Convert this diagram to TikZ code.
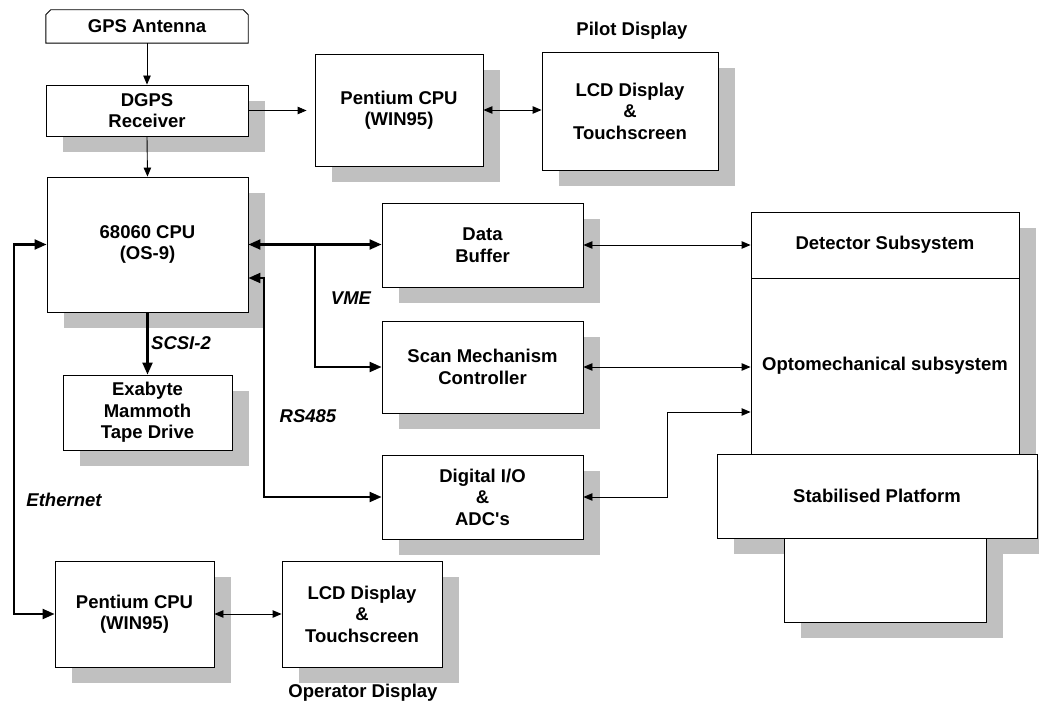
\documentclass[tikz,border=0pt]{standalone}
\usepackage{fontspec}
\setmainfont{Liberation Sans}
\usetikzlibrary{arrows.meta,calc}
\definecolor{shadowgray}{RGB}{192,192,192}
\pgfdeclarelayer{shadowlayer}
\pgfsetlayers{shadowlayer,main}
\tikzset{
  txt/.style={font=\bfseries\fontsize{18.5}{21.5}\selectfont},
  itxt/.style={font=\bfseries\itshape\fontsize{18.5}{21.5}\selectfont},
  box/.style={txt, draw=black, line width=0.9pt, fill=white, inner sep=0pt, align=center},
  boxline/.style={draw=black, line width=0.9pt},
  arr/.style={line width=0.9pt, -{Triangle[length=9pt,width=7.5pt]}},
  darr/.style={line width=0.9pt, {Triangle[length=9pt,width=7.5pt]}-{Triangle[length=9pt,width=7.5pt]}},
  bus/.style={line width=2.2pt, -{Triangle[length=12pt,width=10pt]}},
  dbus/.style={line width=2.2pt, {Triangle[length=12pt,width=10pt]}-{Triangle[length=12pt,width=10pt]}},
  boxshadow/.style={fill=shadowgray, draw=none},
}
\begin{document}
\begin{tikzpicture}[x=1pt,y=-1pt]
\useasboundingbox (0,0) rectangle (1039,703);

% GPS antenna (chamfered top)
\node[txt, minimum width=202pt, minimum height=33pt, inner sep=0pt] (gps) at (147,26.5) {GPS Antenna};
\draw[boxline] (gps.south west) -- ($(gps.north west)+(0,5)$) -- ($(gps.north west)+(5,0)$)
  -- ($(gps.north east)+(-5,0)$) -- ($(gps.north east)+(0,5)$) -- (gps.south east) -- cycle;

% boxes
\node[box, minimum width=202pt, minimum height=51pt] (dgps) at (147,110.5) {DGPS\\Receiver};
\node[box, minimum width=201pt, minimum height=135pt] (cpu) at (147.5,244.5) {68060 CPU\\(OS-9)};
\node[box, minimum width=169pt, minimum height=75pt] (exa) at (147.5,412.5) {Exabyte\\Mammoth\\Tape Drive};
\node[box, minimum width=168pt, minimum height=112pt] (pent1) at (399,110) {Pentium CPU\\(WIN95)};
\node[box, minimum width=176pt, minimum height=118pt] (lcd1) at (630,111) {LCD Display\\\&\\Touchscreen};
\node[box, minimum width=201pt, minimum height=84pt] (buf) at (482.5,245) {Data\\Buffer};
\node[box, minimum width=201pt, minimum height=92pt] (scan) at (482.5,367) {Scan Mechanism\\Controller};
\node[box, minimum width=201pt, minimum height=84pt] (dio) at (482.5,497) {Digital I/O\\\&\\ADC\textquotesingle s};
\node[box, minimum width=268pt, minimum height=66pt] (det) at (885,245) {Detector Subsystem};
\node[box, minimum width=268pt, minimum height=176pt] (opto) at (885,366) {Optomechanical subsystem};
\node[box, minimum width=202pt, minimum height=168pt] (low) at (885,538) {};
\node[box, minimum width=320pt, minimum height=84pt] (stab) at (877,496) {Stabilised Platform};
\node[box, minimum width=159pt, minimum height=106pt] (pent2) at (134.5,614) {Pentium CPU\\(WIN95)};
\node[box, minimum width=160pt, minimum height=106pt] (lcd2) at (362,614) {LCD Display\\\&\\Touchscreen};

% shadows
\begin{pgfonlayer}{shadowlayer}
\foreach \n in {dgps,cpu,exa,pent1,lcd1,buf,scan,dio,det,opto,low,stab,pent2,lcd2}
  \path[boxshadow] ($(\n.north west)+(17,16)$) rectangle ($(\n.south east)+(17,16)$);
\end{pgfonlayer}

% labels
\node[txt] (pilot) at (632,31) {Pilot Display};
\node[txt] (oper) at (363,693) {Operator Display};
\node[itxt] (vme) at (351,298) {VME};
\node[itxt] (rs) at (308,416) {RS485};
\node[itxt] (scsi) at (181,343) {SCSI-2};
\node[itxt] (ethl) at (64,500) {Ethernet};

% junctions
\coordinate (vmej) at (315,244.5);
\coordinate (rsj) at (264,278);
\coordinate (ethj) at (14,430);
\coordinate (dioj) at (667,412);

% connectors
\draw[arr] (gps.south) -- (dgps.north);
\draw[arr] (dgps.south) -- (cpu.north);
\draw[arr, shorten >=8pt] (dgps.east) -- (dgps.east -| pent1.west);
\draw[darr] (pent1.east) -- (pent1.east -| lcd1.west);
\draw[dbus] (cpu.east) -- (cpu.east -| buf.west);
\draw[bus] (vmej) |- (scan.west);
\draw[dbus] (dio.west) -| (rsj) -- (rsj -| cpu.east);
\draw[dbus] (cpu.west) -| (ethj) |- (pent2.west);
\draw[bus] (cpu.south) -- (exa.north);
\draw[darr] (pent2.east) -- (lcd2.west);
\draw[darr] (buf.east) -- (buf.east -| det.west);
\draw[darr] (scan.east) -- (scan.east -| opto.west);
\draw[darr] (dio.east) -| (dioj) -- (dioj -| opto.west);
\end{tikzpicture}
\end{document}
